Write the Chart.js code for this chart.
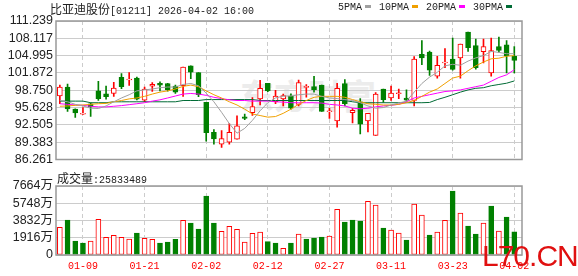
<!DOCTYPE html>
<html>
<head>
<meta charset="utf-8">
<script src="https://cdn.jsdelivr.net/npm/chart.js@4"></script>
<style>
  body { margin: 0; background: #fff; }
  #wrap { position: relative; width: 578px; height: 276px; overflow: hidden; }
  canvas { position: absolute; left: 0; }
  .txt { position: absolute; white-space: nowrap; color: #222; }
  .cjk { font: 12px "Noto Sans CJK SC", sans-serif; }
  .mono { font: 10px "Liberation Mono", monospace; }
  .sw { display: inline-block; width: 6px; height: 3px; margin: 0 8px 2px 3px; vertical-align: middle; }
</style>
</head>
<body>
<div id="wrap">
  <div class="txt" style="left:240px;top:70px;font:bold 34px 'Noto Sans CJK SC';color:#ececec;">东方财富</div>
  <canvas id="price" width="578" height="170" style="top:0"></canvas>
  <canvas id="volume" width="578" height="106" style="top:170px"></canvas>
  <div class="txt" style="left:50px;top:0px;line-height:16px;"><span class="cjk">比亚迪股份</span><span class="mono">[01211] 2026-04-02 16:00</span></div>
  <div class="txt mono" id="legend" style="left:338px;top:0px;line-height:16px;"></div>
  <div class="txt" style="left:57px;top:169px;line-height:16px;"><span class="cjk">成交量</span><span class="mono">:25833489</span></div>
  <div class="txt" style="left:482px;top:239px;font:30px 'Liberation Sans';color:#e01010;letter-spacing:-1px;">L70.CN</div>
</div>
<script>
// trading days shown (MM-DD)
const dates = ['01-06','01-07','01-08','01-09','01-12','01-13','01-14','01-15','01-16','01-19',
  '01-20','01-21','01-22','01-23','01-26','01-27','01-28','01-29','01-30','02-02',
  '02-03','02-04','02-05','02-06','02-09','02-10','02-11','02-12','02-13','02-16',
  '02-20','02-23','02-24','02-25','02-26','02-27','03-02','03-03','03-04','03-05',
  '03-06','03-09','03-10','03-11','03-12','03-13','03-16','03-17','03-18','03-19',
  '03-20','03-23','03-24','03-25','03-26','03-27','03-30','03-31','04-01','04-02'];

const opens = [97.71, 99.33, 95.34, 94.45, 96.32, 98.64, 98.12, 98.17, 101.07, 100.62,
  100.95, 96.96, 99.50, 100.02, 99.97, 99.50, 99.56, 103.15, 101.93, 96.55,
  91.18, 89.04, 89.39, 89.91, 93.95, 94.71, 97.19, 100.02, 96.67, 97.19,
  97.71, 96.21, 99.28, 99.39, 99.68, 94.88, 93.20, 99.97, 94.71, 96.67,
  93.20, 90.60, 98.98, 97.36, 98.13, 97.36, 96.90, 105.23, 105.63, 101.30,
  103.68, 104.36, 104.59, 109.22, 106.79, 105.69, 101.87, 106.61, 106.96, 104.88];
const highs = [99.68, 99.85, 95.40, 95.63, 96.50, 100.37, 99.50, 100.20, 101.76, 101.93,
  101.12, 99.33, 100.14, 100.26, 100.02, 99.68, 102.92, 103.15, 101.93, 96.55,
  91.64, 91.47, 92.74, 94.13, 94.47, 97.42, 100.54, 100.02, 98.75, 98.06,
  98.12, 100.60, 99.79, 101.24, 99.68, 95.51, 100.02, 100.66, 95.51, 97.25,
  94.59, 98.35, 98.98, 99.50, 98.98, 98.81, 104.82, 107.71, 105.80, 104.88,
  106.27, 108.18, 107.07, 109.22, 108.00, 108.00, 108.18, 108.35, 107.71, 106.61];
const lows = [96.32, 94.94, 93.84, 94.40, 94.01, 96.90, 97.13, 97.65, 99.04, 99.62,
  97.02, 96.67, 98.52, 98.64, 98.60, 98.18, 97.65, 100.83, 97.60, 89.56,
  89.04, 88.46, 89.04, 89.91, 93.43, 94.19, 96.09, 98.50, 96.32, 95.92,
  95.34, 95.92, 97.48, 98.41, 94.94, 93.67, 92.10, 95.92, 92.86, 90.89,
  91.24, 90.60, 96.55, 96.90, 97.25, 96.79, 95.92, 103.38, 101.41, 100.95,
  102.80, 102.39, 100.95, 105.75, 102.57, 103.67, 101.30, 105.63, 101.87, 101.87];
const closes = [99.33, 95.40, 94.65, 94.60, 95.75, 97.25, 97.60, 99.16, 99.39, 100.78,
  97.13, 98.98, 99.80, 99.68, 98.87, 98.41, 102.92, 101.99, 97.94, 91.12,
  89.98, 90.02, 91.18, 92.34, 93.67, 95.81, 99.10, 98.64, 97.71, 97.77,
  95.51, 100.14, 99.45, 98.87, 94.95, 95.02, 99.10, 96.32, 95.11, 92.63,
  94.59, 98.06, 97.07, 98.23, 98.30, 96.96, 104.36, 104.59, 102.39, 103.26,
  103.85, 102.51, 107.07, 106.44, 102.80, 106.61, 105.90, 105.95, 105.00, 104.13];

// moving averages
const ma5 = [96.90, 96.67, 96.21, 95.92, 95.51, 95.46, 95.92, 96.67, 97.36, 97.94,
  98.64, 98.81, 98.98, 99.21, 99.33, 99.33, 99.79, 99.97, 99.56, 98.23,
  96.67, 94.76, 92.74, 91.01, 91.87, 93.32, 95.05, 96.50, 97.36, 97.71,
  97.71, 97.94, 98.06, 98.06, 97.65, 97.36, 97.25, 97.07, 96.90, 96.50,
  95.92, 95.51, 95.63, 96.09, 96.44, 96.79, 98.41, 99.97, 101.12, 101.99,
  103.15, 103.43, 103.26, 104.01, 104.59, 105.00, 105.75, 105.57, 105.34, 105.34];
const ma10 = [95.86, 95.92, 96.03, 96.09, 96.21, 96.32, 96.38, 96.67, 96.90, 97.19,
  97.36, 97.65, 98.06, 98.41, 98.64, 98.98, 99.45, 99.68, 99.39, 98.64,
  97.94, 97.36, 96.67, 96.09, 95.34, 94.47, 94.19, 93.90, 94.01, 94.59,
  95.34, 96.21, 96.90, 97.48, 97.65, 97.65, 97.65, 97.48, 97.07, 96.67,
  96.32, 96.21, 96.09, 96.09, 96.21, 96.50, 96.90, 97.65, 98.41, 98.98,
  99.97, 100.95, 101.30, 102.28, 103.15, 103.84, 104.42, 104.53, 104.88, 105.00];
const ma20 = [96.32, 96.21, 96.09, 96.03, 95.86, 95.75, 95.75, 95.86, 95.98, 96.15,
  96.32, 96.50, 96.79, 97.02, 97.36, 97.71, 98.06, 98.17, 98.06, 97.83,
  97.48, 97.25, 97.02, 96.90, 96.90, 96.79, 96.79, 96.79, 96.67, 96.61,
  96.50, 96.50, 96.50, 96.50, 96.44, 96.21, 96.09, 95.92, 95.51, 95.40,
  95.51, 95.75, 95.92, 96.03, 96.21, 96.67, 97.36, 97.65, 97.94, 98.23,
  98.52, 98.64, 98.81, 99.10, 99.39, 99.68, 100.37, 101.06, 101.53, 102.45];
const ma30 = [96.79, 96.79, 96.79, 96.79, 96.50, 96.50, 96.50, 96.67, 96.67, 96.67,
  96.67, 96.67, 96.67, 96.67, 96.67, 96.67, 96.90, 96.90, 96.90, 97.07,
  97.07, 97.07, 97.07, 97.07, 97.07, 97.07, 96.90, 96.90, 96.90, 96.90,
  96.90, 96.90, 96.90, 96.90, 96.90, 96.90, 96.90, 96.90, 96.67, 96.50,
  96.50, 96.50, 96.50, 96.50, 96.50, 96.50, 96.50, 96.50, 96.55, 97.07,
  97.48, 97.94, 98.41, 98.81, 99.10, 99.21, 99.56, 99.79, 100.02, 100.43];

// volume in 万 shares
const volumes = [3073, 3888, 1555, 1333, 1555, 3962, 1962, 2184, 1962, 1777,
  2444, 1851, 1740, 1333, 1444, 1740, 3851, 3554, 2888, 6553,
  3554, 2629, 3184, 2851, 1444, 2407, 2555, 1481, 1333, 740,
  1333, 2333, 1777, 1888, 1999, 2110, 5072, 3665, 3888, 3777,
  5961, 5554, 2999, 2777, 2444, 1666, 5665, 4443, 2221, 2555,
  3851, 7109, 4665, 3221, 2333, 3554, 5443, 2666, 4221, 2583.3489];

const priceTicks = [111.239, 108.117, 104.995, 101.872, 98.750, 95.628, 92.505, 89.383, 86.261];
const volTicks = [7664, 5748, 3832, 1916, 0];
const tickDates = ['01-09', '01-21', '02-02', '02-12', '02-27', '03-11', '03-23', '04-02'];

const maNames = ['5PMA', '10PMA', '20PMA', '30PMA'];
const maColors = ['#a0a0a0', '#f0a000', '#ff00ff', '#006b35'];

const RED = '#ff0000';
const GREEN = '#008000';
const AXIS_FONT = { family: '"Liberation Sans", "Noto Sans CJK SC", sans-serif', size: 12.5 };
const tickIdx = tickDates.map(d => dates.indexOf(d));

const isUp = i => closes[i] >= opens[i];
const volUp = i => i === 0 ? isUp(0) : closes[i] >= closes[i - 1];

// legend: name then a short colour bar
document.getElementById('legend').innerHTML = maNames
    .map((n, k) => `${n}<span class="sw" style="background:${maColors[k]}"></span>`).join('');

const framePlugin = {
    id: 'frame',
    afterDraw(chart) {
        const { ctx, chartArea: a } = chart;
        ctx.save();
        ctx.strokeStyle = '#999';
        ctx.lineWidth = 1.5;
        ctx.strokeRect(a.left, a.top, a.right - a.left, a.bottom - a.top);
        ctx.restore();
    }
};

function xScale(showLabels) {
    return {
        type: 'linear',
        min: -0.5,
        max: 60,
        offset: false,
        afterBuildTicks: s => { s.ticks = tickIdx.map(v => ({ value: v })); },
        afterFit: s => { s.height = showLabels ? 21 : 0; },
        ticks: {
            display: showLabels,
            autoSkip: false,
            maxRotation: 0,
            padding: 5,
            color: RED,
            font: { family: '"Liberation Mono", monospace', size: 10 },
            callback: v => dates[v]
        },
        grid: { color: '#cccccc', drawTicks: false, offset: false },
        border: { display: false, dash: [4, 3] }
    };
}

function yScale(min, max, ticks, fmt) {
    return {
        min: min,
        max: max,
        afterBuildTicks: s => { s.ticks = ticks.map(v => ({ value: v })); },
        afterFit: s => { s.width = 56; },
        ticks: { autoSkip: false, color: '#222', font: AXIS_FONT, padding: 3, callback: fmt },
        grid: { color: '#cccccc', drawTicks: false },
        border: { display: false }
    };
}

const commonOptions = {
    responsive: false,
    animation: false,
    events: [],
    plugins: { legend: { display: false }, tooltip: { enabled: false } }
};

const maDatasets = [ma5, ma10, ma20, ma30].map((arr, k) => ({
    type: 'line',
    label: maNames[k],
    data: arr.map((v, i) => ({ x: i, y: v })),
    borderColor: maColors[k],
    borderWidth: 1,
    pointRadius: 0,
    tension: 0,
    order: 0
}));

new Chart(document.getElementById('price'), {
    type: 'bar',
    data: {
        datasets: [
            ...maDatasets,
            {
                label: 'body',
                data: opens.map((o, i) => ({ x: i, y: [o, closes[i]] })),
                backgroundColor: opens.map((o, i) => isUp(i) ? '#ffffff' : GREEN),
                borderColor: opens.map((o, i) => isUp(i) ? RED : GREEN),
                borderWidth: 1,
                borderSkipped: false,
                barThickness: 5,
                grouped: false,
                order: 1
            },
            {
                label: 'wick',
                data: lows.map((l, i) => ({ x: i, y: [l, highs[i]] })),
                backgroundColor: lows.map((l, i) => isUp(i) ? RED : GREEN),
                borderWidth: 0,
                barThickness: 1,
                grouped: false,
                order: 2
            }
        ]
    },
    options: {
        ...commonOptions,
        layout: { padding: { top: 21, right: 56, bottom: 5, left: 0 } },
        scales: {
            x: xScale(false),
            y: yScale(86.261, 111.239, priceTicks, v => v.toFixed(3))
        }
    },
    plugins: [framePlugin]
});

new Chart(document.getElementById('volume'), {
    type: 'bar',
    data: {
        datasets: [{
            label: 'volume',
            data: volumes.map((v, i) => ({ x: i, y: v })),
            backgroundColor: volumes.map((v, i) => volUp(i) ? '#ffffff' : GREEN),
            borderColor: volumes.map((v, i) => volUp(i) ? RED : GREEN),
            borderWidth: 1,
            borderSkipped: false,
            barThickness: 5
        }]
    },
    options: {
        ...commonOptions,
        layout: { padding: { top: 16, right: 56, bottom: 0, left: 0 } },
        scales: {
            x: xScale(true),
            y: yScale(0, 7664, volTicks, v => v === 0 ? '0' : v + '万')
        }
    },
    plugins: [framePlugin]
});
</script>
</body>
</html>
